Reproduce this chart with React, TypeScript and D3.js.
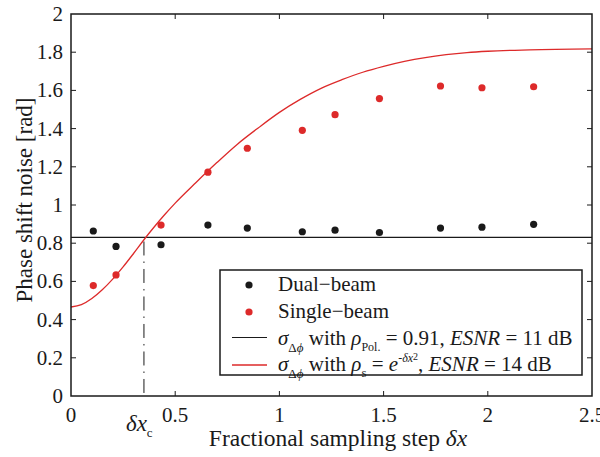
import React, { useEffect, useRef } from 'react';
import * as d3 from 'd3';

// fractional sampling steps of the measurements
const stepX = [0.107, 0.216, 0.432, 0.657, 0.846, 1.11, 1.267, 1.48, 1.773, 1.972, 2.22];
const dualBeam = [0.864, 0.783, 0.792, 0.895, 0.879, 0.86, 0.868, 0.856, 0.879, 0.884, 0.899];
const singleBeam = [0.578, 0.634, 0.895, 1.172, 1.297, 1.391, 1.473, 1.557, 1.623, 1.614, 1.619];

// theoretical curve
const curveX = [0, 0.05, 0.1, 0.15, 0.2, 0.25, 0.3, 0.35, 0.4, 0.45, 0.5, 0.6, 0.7, 0.8, 0.9, 1.0, 1.1, 1.2, 1.3, 1.4, 1.5, 1.6, 1.7, 1.8, 1.9, 2.0, 2.2, 2.5];
const curveY = [0.466, 0.478, 0.51, 0.556, 0.612, 0.676, 0.746, 0.818, 0.886, 0.95, 1.01, 1.118, 1.222, 1.32, 1.405, 1.485, 1.553, 1.611, 1.656, 1.695, 1.726, 1.752, 1.772, 1.787, 1.798, 1.805, 1.812, 1.817];

const polLevel = 0.83;
const criticalStep = 0.35;

const xTicks = [0, 0.5, 1, 1.5, 2, 2.5];
const yTicks = [0, 0.2, 0.4, 0.6, 0.8, 1, 1.2, 1.4, 1.6, 1.8, 2];

const FONT = "'Liberation Serif', 'Times New Roman', Times, serif";
const RED = '#dd2a2a';
const INK = '#1a1a1a';

const App = () => {
  const svgRef = useRef<SVGSVGElement>(null);

  useEffect(() => {
    const svg = d3.select(svgRef.current);
    svg.selectAll('*').remove();

    const left = 71, right = 592, top = 14, bottom = 396;
    const x = d3.scaleLinear().domain([0, 2.5]).range([left, right]);
    const y = d3.scaleLinear().domain([0, 2]).range([bottom, top]);
    const fmt = d3.format('~g');

    const g = svg.append('g');
    const txt = (parent: any) => parent.append('text').attr('font-family', FONT).attr('fill', INK);

    // ticks (inward, mirrored)
    const tickLen = 5;
    xTicks.slice(1, -1).forEach(t => {
      g.append('line').attr('x1', x(t)).attr('x2', x(t)).attr('y1', bottom).attr('y2', bottom - tickLen)
        .attr('stroke', INK).attr('stroke-width', 1);
      g.append('line').attr('x1', x(t)).attr('x2', x(t)).attr('y1', top).attr('y2', top + tickLen)
        .attr('stroke', INK).attr('stroke-width', 1);
    });
    yTicks.slice(1, -1).forEach(t => {
      g.append('line').attr('x1', left).attr('x2', left + tickLen).attr('y1', y(t)).attr('y2', y(t))
        .attr('stroke', INK).attr('stroke-width', 1);
      g.append('line').attr('x1', right).attr('x2', right - tickLen).attr('y1', y(t)).attr('y2', y(t))
        .attr('stroke', INK).attr('stroke-width', 1);
    });

    // tick labels
    xTicks.forEach(t => {
      txt(g).attr('x', x(t)).attr('y', bottom + 26)
        .attr('text-anchor', 'middle').attr('font-size', 21)
        .text(fmt(t));
    });
    yTicks.forEach(t => {
      txt(g).attr('x', left - 8).attr('y', y(t) + 7)
        .attr('text-anchor', 'end').attr('font-size', 21)
        .text(fmt(t));
    });

    // δx_c label
    const xc = txt(g).attr('x', x(criticalStep) - 18).attr('y', bottom + 35).attr('font-size', 23);
    xc.append('tspan').attr('font-style', 'italic').text('δx');
    xc.append('tspan').attr('dy', 6).attr('font-size', 13).text('c');

    // axis titles
    const xt = txt(g).attr('x', 338).attr('y', 446).attr('text-anchor', 'middle')
      .attr('font-size', 23.5);
    xt.append('tspan').text('Fractional sampling step ');
    xt.append('tspan').attr('font-style', 'italic').text('δx');
    txt(g).attr('transform', 'translate(32,200) rotate(-90)')
      .attr('text-anchor', 'middle').attr('font-size', 23)
      .text('Phase shift noise [rad]');

    // horizontal dual-beam model line
    g.append('line').attr('x1', left).attr('x2', right).attr('y1', y(polLevel)).attr('y2', y(polLevel))
      .attr('stroke', INK).attr('stroke-width', 1.2);

    // critical step dash-dot
    g.append('line').attr('x1', x(criticalStep)).attr('x2', x(criticalStep))
      .attr('y1', y(polLevel)).attr('y2', bottom)
      .attr('stroke', INK).attr('stroke-width', 1)
      .attr('stroke-dasharray', '14,6,1.5,6').attr('stroke-dashoffset', -4);

    // single-beam model curve
    const line = d3.line<number>().x((d, i) => x(curveX[i])).y(d => y(d)).curve(d3.curveMonotoneX);
    g.append('path').attr('d', line(curveY)).attr('fill', 'none')
      .attr('stroke', RED).attr('stroke-width', 1.3);

    // points
    g.selectAll('.dual').data(dualBeam).enter().append('circle')
      .attr('cx', (d, i) => x(stepX[i])).attr('cy', d => y(d)).attr('r', 3.6).attr('fill', INK);
    g.selectAll('.single').data(singleBeam).enter().append('circle')
      .attr('cx', (d, i) => x(stepX[i])).attr('cy', d => y(d)).attr('r', 3.6).attr('fill', RED);

    // frame
    g.append('rect').attr('x', left).attr('y', top).attr('width', right - left).attr('height', bottom - top)
      .attr('fill', 'none').attr('stroke', INK).attr('stroke-width', 1.5);

    // legend
    const lg = g.append('g');
    lg.append('rect').attr('x', 220).attr('y', 270).attr('width', 362).attr('height', 105)
      .attr('fill', 'white').attr('stroke', INK).attr('stroke-width', 1.5);
    const tx = 278;
    const fs = 21;
    lg.append('circle').attr('cx', 249).attr('cy', 285).attr('r', 3.6).attr('fill', INK);
    txt(lg).attr('x', tx).attr('y', 291).attr('font-size', fs).text('Dual\u2212beam');
    lg.append('circle').attr('cx', 249).attr('cy', 312).attr('r', 3.6).attr('fill', RED);
    txt(lg).attr('x', tx).attr('y', 318).attr('font-size', fs).text('Single\u2212beam');

    lg.append('line').attr('x1', 232).attr('x2', 267).attr('y1', 337.5).attr('y2', 337.5)
      .attr('stroke', INK).attr('stroke-width', 1.2);
    lg.append('line').attr('x1', 232).attr('x2', 267).attr('y1', 365).attr('y2', 365)
      .attr('stroke', RED).attr('stroke-width', 1.3);

    const sigma = (t: any) => {
      t.append('tspan').attr('font-style', 'italic').text('σ');
      t.append('tspan').attr('dy', 7).attr('font-size', 13).text('Δ');
      t.append('tspan').attr('font-size', 13).attr('font-style', 'italic').text('ϕ');
      t.append('tspan').attr('dy', -7).text(' with ');
      t.append('tspan').attr('font-style', 'italic').text('ρ');
    };

    const r3 = txt(lg).attr('x', tx).attr('y', 345).attr('font-size', fs);
    sigma(r3);
    r3.append('tspan').attr('dy', 6).attr('font-size', 12).text('Pol.');
    r3.append('tspan').attr('dy', -6).text(' = 0.91, ');
    r3.append('tspan').attr('font-style', 'italic').text('ESNR');
    r3.append('tspan').text(' = 11 dB');

    const r4 = txt(lg).attr('x', tx).attr('y', 371).attr('font-size', fs);
    sigma(r4);
    r4.append('tspan').attr('dy', 6).attr('font-size', 13).text('s');
    r4.append('tspan').attr('dy', -6).text(' = ');
    r4.append('tspan').attr('font-style', 'italic').text('e');
    r4.append('tspan').attr('dy', -9).attr('font-size', 12).text('-');
    r4.append('tspan').attr('font-size', 12).attr('font-style', 'italic').text('δx');
    r4.append('tspan').attr('dy', -2).attr('font-size', 10).text('2');
    r4.append('tspan').attr('dy', 11).text(', ');
    r4.append('tspan').attr('font-style', 'italic').text('ESNR');
    r4.append('tspan').text(' = 14 dB');
  }, []);

  return (
    <svg ref={svgRef} width={600} height={457}
      style={{ position: 'absolute', left: 0, top: 0, background: 'white' }} />
  );
};

export default App;
